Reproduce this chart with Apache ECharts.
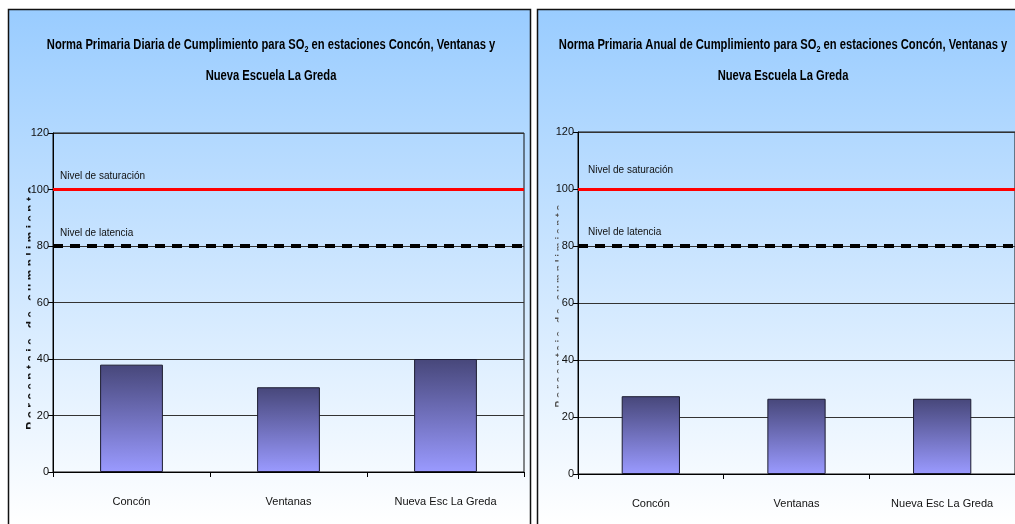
<!DOCTYPE html>
<html>
<head>
<meta charset="utf-8">
<script src="https://cdn.jsdelivr.net/npm/echarts@6/dist/echarts.min.js"></script>
<style>
  html, body { margin: 0; padding: 0; background: #ffffff; }
  #chart { width: 1015px; height: 524px; }
</style>
</head>
<body>
<div id="chart"></div>
<script>
// Station categories and compliance percentages (daily and annual standards)
const categories = ['Concón', 'Ventanas', 'Nueva Esc La Greda'];
const dailyValues = [38, 30, 40];
const annualValues = [27.3, 26.4, 26.4];

// Reference levels
const saturationLevel = 100;
const latencyLevel = 80;
const saturationLabel = 'Nivel de saturación';
const latencyLabel = 'Nivel de latencia';

// Value axis range
const yMin = 0;
const yMax = 120;
const yInterval = 20;

// Panel titles (rich text with SO2 subscript)
const dailyTitle = '{t|Norma Primaria Diaria de Cumplimiento para SO}{s|2}{t| en estaciones Concón, Ventanas y}\n{t|Nueva Escuela La Greda}';
const annualTitle = '{t|Norma Primaria Anual de Cumplimiento para SO}{s|2}{t| en estaciones Concón, Ventanas y}\n{t|Nueva Escuela La Greda}';
const yAxisTitle = 'P o r c e n t a j e   d e   c u m p l i m i e n t o';

const SANS = "'Liberation Sans', Arial, sans-serif";

const panelGradient = {
  type: 'linear', x: 0, y: 9, x2: 0, y2: 524, global: true,
  colorStops: [{ offset: 0, color: '#99ccff' }, { offset: 1, color: '#ffffff' }]
};
const barGradient = {
  type: 'linear', x: 0, y: 0, x2: 0, y2: 1,
  colorStops: [{ offset: 0, color: '#47477a' }, { offset: 1, color: '#9a9aff' }]
};

const titleRich = {
  t: { fontFamily: SANS, fontWeight: 'bold', fontSize: 14, color: '#000', lineHeight: 31 },
  s: { fontFamily: SANS, fontWeight: 'bold', fontSize: 9, color: '#000', lineHeight: 10, padding: [9, 0, 0, 0] }
};

function yAxisCfg(gridIndex) {
  return {
    type: 'value', gridIndex, min: yMin, max: yMax, interval: yInterval,
    axisLine: { show: true, lineStyle: { color: '#000', width: 1 } },
    axisTick: { show: true, length: 5, lineStyle: { color: '#000' } },
    axisLabel: { fontFamily: SANS, fontSize: 11, color: '#111', margin: 4 },
    splitLine: { show: true, lineStyle: { color: '#333', width: 1 } }
  };
}
function xAxisCfg(gridIndex) {
  return {
    type: 'category', gridIndex, data: categories,
    axisLine: { show: true, lineStyle: { color: '#000', width: 1 } },
    axisTick: { show: true, length: 5, lineStyle: { color: '#000' } },
    axisLabel: { fontFamily: SANS, fontSize: 11, color: '#111', margin: 24 }
  };
}
function markLines(satDist, latDist) {
  return {
    silent: true,
    symbol: ['none', 'none'],
    label: { position: 'insideStartTop', fontFamily: SANS, fontSize: 10, color: '#111' },
    data: [
      { yAxis: saturationLevel, lineStyle: { color: '#ff0000', width: 3, type: 'solid' },
        label: { formatter: saturationLabel, distance: satDist } },
      { yAxis: latencyLevel, lineStyle: { color: '#000000', width: 4, type: [10, 7] },
        label: { formatter: latencyLabel, distance: latDist } }
    ]
  };
}
function barSeries(idx, values, mark) {
  return {
    type: 'bar', xAxisIndex: idx, yAxisIndex: idx, data: values, barWidth: '40%',
    itemStyle: { color: barGradient, borderColor: '#1c1c30', borderWidth: 1 },
    markLine: mark
  };
}

const chart = echarts.init(document.getElementById('chart'), null, { renderer: 'canvas' });
chart.setOption({
  animation: false,
  backgroundColor: '#ffffff',
  grid: [
    { left: 53, top: 133, width: 471, height: 339, show: true, borderColor: '#111', borderWidth: 1, backgroundColor: 'transparent' },
    { left: 578, top: 132, width: 441, height: 342, show: true, borderColor: '#111', borderWidth: 1, backgroundColor: 'transparent' }
  ],
  xAxis: [xAxisCfg(0), xAxisCfg(1)],
  yAxis: [yAxisCfg(0), yAxisCfg(1)],
  series: [
    barSeries(0, dailyValues, markLines([7, 8], [7, 8])),
    barSeries(1, annualValues, markLines([10, 14], [10, 9]))
  ],
  graphic: [
    // panel backgrounds and frames
    { type: 'rect', z: -5, shape: { x: 8.5, y: 9.5, width: 522, height: 540 },
      style: { fill: panelGradient, stroke: '#111', lineWidth: 1.5 } },
    { type: 'rect', z: -5, shape: { x: 537.5, y: 9.5, width: 520, height: 540 },
      style: { fill: panelGradient, stroke: '#111', lineWidth: 1.5 } },
    // titles, horizontally condensed
    { type: 'text', z: -4, x: 271, y: 30, scaleX: 0.8,
      style: { text: dailyTitle, rich: titleRich, align: 'center', verticalAlign: 'top' } },
    { type: 'text', z: -4, x: 783, y: 30, scaleX: 0.8,
      style: { text: annualTitle, rich: titleRich, align: 'center', verticalAlign: 'top' } },
    // vertical axis titles, mostly hidden behind the tick labels area
    { type: 'text', z: -4, x: 26, y: 308, rotation: Math.PI / 2,
      style: { text: yAxisTitle, font: "bold 12px 'Liberation Sans', sans-serif", fill: '#111', align: 'center', verticalAlign: 'top' } },
    { type: 'rect', z: -3, shape: { x: 30.5, y: 150, width: 21, height: 310 },
      style: { fill: panelGradient } },
    { type: 'text', z: -4, x: 555, y: 306, rotation: Math.PI / 2,
      style: { text: yAxisTitle, font: "bold 10px 'Liberation Sans', sans-serif", fill: '#555', align: 'center', verticalAlign: 'top' } },
    { type: 'rect', z: -3, shape: { x: 558.5, y: 150, width: 18, height: 310 },
      style: { fill: panelGradient } }
  ]
});
</script>
</body>
</html>
